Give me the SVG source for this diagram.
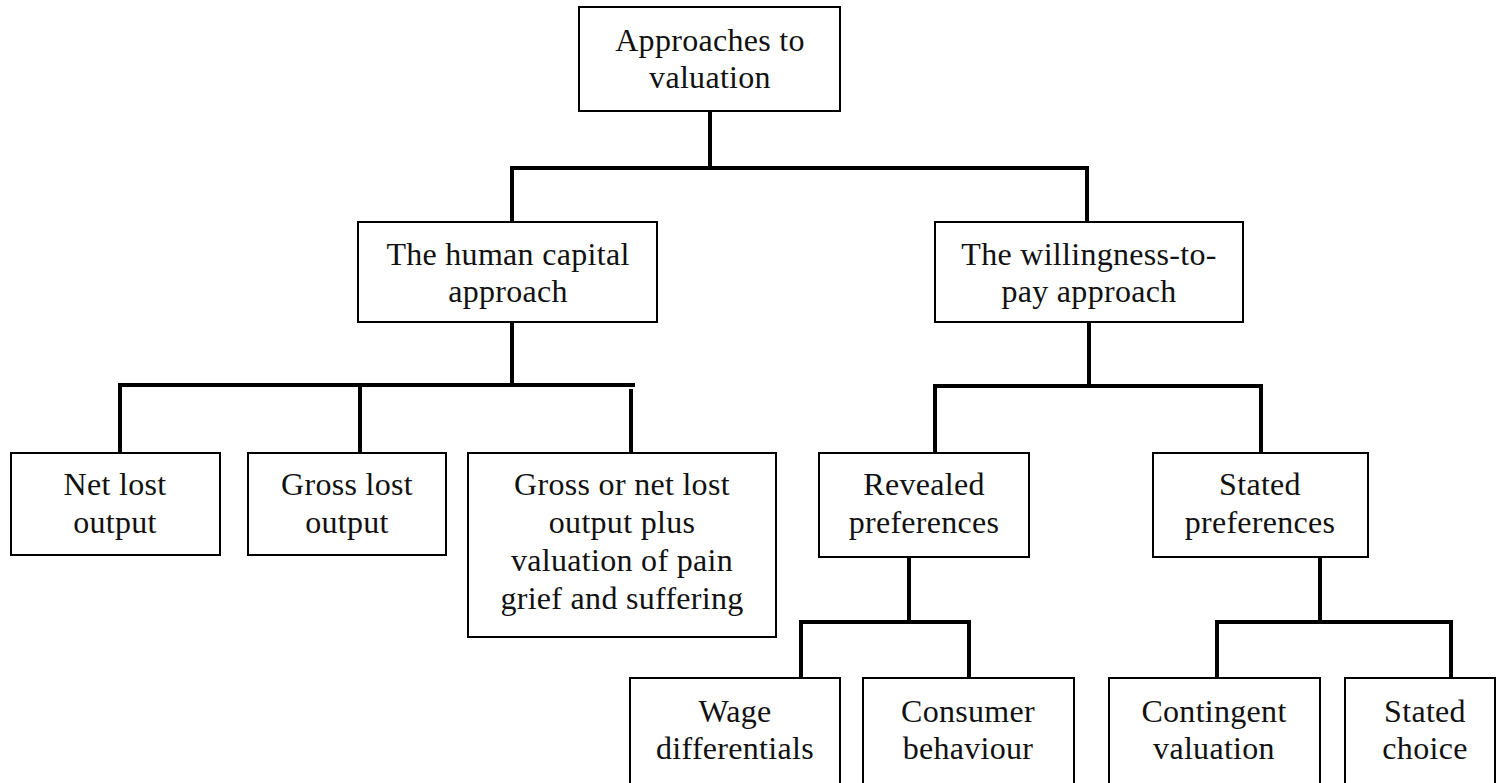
<svg xmlns="http://www.w3.org/2000/svg" width="1497" height="783" viewBox="0 0 1497 783">
<style>
.box{fill:#fff;stroke:#000;stroke-width:2}
.t{font-family:"Liberation Serif","Times New Roman",serif;font-size:32px;letter-spacing:0.3px;fill:#111;text-anchor:middle}
.c{fill:none;stroke:#000;stroke-width:4;stroke-linecap:square;stroke-linejoin:miter}
</style>
<rect width="1497" height="783" fill="#fff"/>
<g id="connectors">
<path class="c" d="M710,111 V168 M512,222 V168 H1087 V222"/>
<path class="c" d="M512,322 V385 M120,453 V385 H633 M360,385 V453 M631,391 V453"/>
<path class="c" d="M1089,322 V386 M935,453 V386 H1261 V453"/>
<path class="c" d="M909,557 V622 M801,678 V622 H969 V678"/>
<path class="c" d="M1320,557 V622 M1217,678 V622 H1451 V678"/>
</g>
<g id="root"><rect class="box" x="579" y="7" width="261" height="104"/>
<text class="t" x="710" y="51">Approaches to</text><text class="t" x="710" y="88">valuation</text></g>
<g id="human-capital"><rect class="box" x="358" y="222" width="299" height="100"/>
<text class="t" x="508" y="265">The human capital</text><text class="t" x="508" y="302">approach</text></g>
<g id="wtp"><rect class="box" x="935" y="222" width="308" height="100"/>
<text class="t" x="1089" y="265">The willingness-to-</text><text class="t" x="1089" y="302">pay approach</text></g>
<g id="net-lost"><rect class="box" x="11" y="453" width="209" height="102"/>
<text class="t" x="115" y="495">Net lost</text><text class="t" x="115" y="533">output</text></g>
<g id="gross-lost"><rect class="box" x="248" y="453" width="198" height="102"/>
<text class="t" x="347" y="495">Gross lost</text><text class="t" x="347" y="533">output</text></g>
<g id="gross-or-net"><rect class="box" x="468" y="453" width="308" height="184"/>
<text class="t" x="622" y="495">Gross or net lost</text><text class="t" x="622" y="533">output plus</text><text class="t" x="622" y="571">valuation of pain</text><text class="t" x="622" y="609">grief and suffering</text></g>
<g id="revealed"><rect class="box" x="819" y="453" width="210" height="104"/>
<text class="t" x="924" y="495">Revealed</text><text class="t" x="924" y="533">preferences</text></g>
<g id="stated-pref"><rect class="box" x="1153" y="453" width="215" height="104"/>
<text class="t" x="1260" y="495">Stated</text><text class="t" x="1260" y="533">preferences</text></g>
<g id="wage"><rect class="box" x="630" y="678" width="210" height="130"/>
<text class="t" x="735" y="722">Wage</text><text class="t" x="735" y="759">differentials</text></g>
<g id="consumer"><rect class="box" x="863" y="678" width="211" height="130"/>
<text class="t" x="968" y="722">Consumer</text><text class="t" x="968" y="759">behaviour</text></g>
<g id="contingent"><rect class="box" x="1109" y="678" width="211" height="130"/>
<text class="t" x="1214" y="722">Contingent</text><text class="t" x="1214" y="759">valuation</text></g>
<g id="stated-choice"><rect class="box" x="1345" y="678" width="150" height="130"/>
<text class="t" x="1425" y="722">Stated</text><text class="t" x="1425" y="759">choice</text></g>
</svg>
